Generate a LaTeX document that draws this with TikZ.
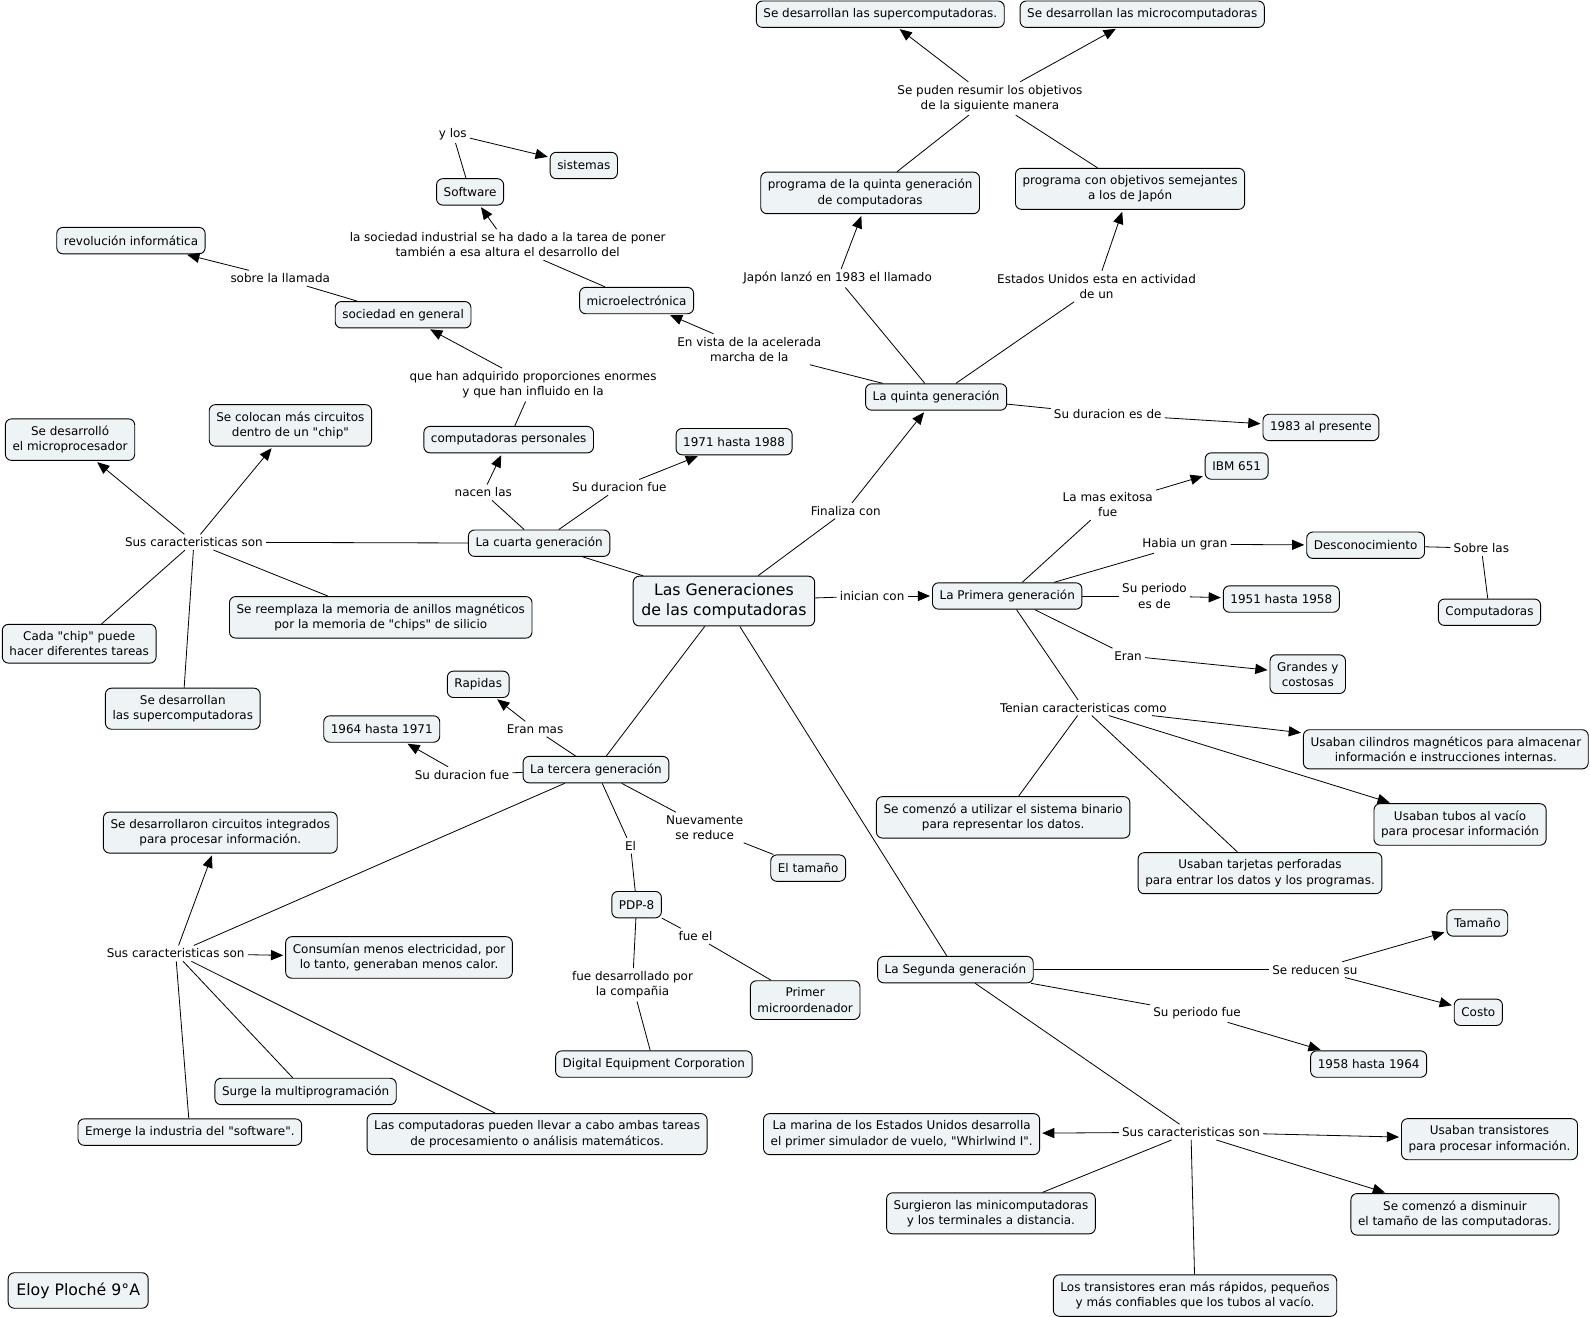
\documentclass[tikz,border=0pt]{standalone}
\usepackage{fontspec}
\setmainfont{DejaVu Sans}[Ligatures=TeXOff]
\usetikzlibrary{arrows.meta}
\definecolor{cfill}{HTML}{EEF3F5}
\tikzset{
  concept/.style={draw=black, line width=0.9pt, fill=cfill, rounded corners=6pt,
    inner xsep=7pt, inner ysep=7pt, minimum height=26pt, align=center,
    font=\fontsize{11.8}{15}\selectfont},
  bigconcept/.style={concept, inner xsep=8pt, minimum height=35pt, font=\fontsize{15.5}{20}\selectfont},
  link/.style={inner sep=3pt, align=center, font=\fontsize{11.8}{15}\selectfont},
  conn/.style={line width=0.8pt, draw=black},
  arr/.style={conn, -{Triangle[length=12pt,width=10pt]}, shorten >=2pt},
}
\begin{document}
\begin{tikzpicture}[x=1pt,y=-1pt]
\useasboundingbox[fill=white] (0,0) rectangle (1566,1297);

% ---------- concepts ----------
\node[bigconcept] (main) at (713,592) {Las Generaciones\\de las computadoras};
\node[concept] (sup) at (867,14) {Se desarrollan las supercomputadoras.};
\node[concept] (micro) at (1125,14) {Se desarrollan las microcomputadoras};
\node[concept] (prog5) at (857,190) {programa de la quinta generación\\de computadoras};
\node[concept] (progUS) at (1113,186) {programa con objetivos semejantes\\a los de Japón};
\node[concept] (sistemas) at (575,163) {sistemas};
\node[concept] (software) at (463,189) {Software};
\node[concept] (revol) at (129,237) {revolución informática};
\node[concept] (socgen) at (397,310) {sociedad en general};
\node[concept] (microelec) at (627,296) {microelectrónica};
\node[concept] (quinta) at (922,391) {La quinta generación};
\node[concept] (y1983) at (1301,421) {1983 al presente};
\node[concept] (compers) at (501,433) {computadoras personales};
\node[concept] (y1971) at (723,435) {1971 hasta 1988};
\node[concept] (microproc) at (69,433) {Se desarrolló\\el microprocesador};
\node[concept] (circuitos) at (286,419) {Se colocan más circuitos\\dentro de un "chip"};
\node[concept] (cuarta) at (531,535) {La cuarta generación};
\node[concept] (reemplaza) at (375,608) {Se reemplaza la memoria de anillos magnéticos\\por la memoria de "chips" de silicio};
\node[concept] (cadachip) at (78,634) {Cada "chip" puede\\hacer diferentes tareas};
\node[concept] (supercomp4) at (180,698) {Se desarrollan\\las supercomputadoras};
\node[concept] (ibm) at (1218,459) {IBM 651};
\node[concept] (descon) at (1345,537) {Desconocimiento};
\node[concept] (computadoras) at (1467,603) {Computadoras};
\node[concept] (primera) at (992,587) {La Primera generación};
\node[concept] (y1951) at (1262,590) {1951 hasta 1958};
\node[concept] (grandes) at (1288,664) {Grandes y\\costosas};
\node[concept] (cilindros) at (1424,738) {Usaban cilindros magnéticos para almacenar\\información e instrucciones internas.};
\node[concept] (tubos) at (1438,812) {Usaban tubos al vacío\\para procesar información};
\node[concept] (binario) at (988,805) {Se comenzó a utilizar el sistema binario\\para representar los datos.};
\node[concept] (tarjetas) at (1241,860) {Usaban tarjetas perforadas\\para entrar los datos y los programas.};
\node[concept] (rapidas) at (471,674) {Rapidas};
\node[concept] (y1964) at (376,718) {1964 hasta 1971};
\node[concept] (tercera) at (587,758) {La tercera generación};
\node[concept] (tamano3) at (796,855) {El tamaño};
\node[concept] (integrados) at (217,820) {Se desarrollaron circuitos integrados\\para procesar información.};
\node[concept] (pdp8) at (627,891) {PDP-8};
\node[concept] (consumian) at (393,943) {Consumían menos electricidad, por\\lo tanto, generaban menos calor.};
\node[concept] (primer) at (793,985) {Primer\\microordenador};
\node[concept] (dec) at (644,1048) {Digital Equipment Corporation};
\node[concept] (multiprog) at (301,1075) {Surge la multiprogramación};
\node[concept] (software3) at (187,1115) {Emerge la industria del "software".};
\node[concept] (ambas) at (529,1117) {Las computadoras pueden llevar a cabo ambas tareas\\de procesamiento o análisis matemáticos.};
\node[concept] (segunda) at (941,955) {La Segunda generación};
\node[concept] (tamano2) at (1455,909) {Tamaño};
\node[concept] (costo) at (1456,997) {Costo};
\node[concept] (y1958) at (1348,1048) {1958 hasta 1964};
\node[concept] (marina) at (888,1117) {La marina de los Estados Unidos desarrolla\\el primer simulador de vuelo, "Whirlwind I".};
\node[concept] (transist) at (1467,1122) {Usaban transistores\\para procesar información.};
\node[concept] (minicomp) at (976,1195) {Surgieron las minicomputadoras\\y los terminales a distancia.};
\node[concept] (disminuir) at (1433,1196) {Se comenzó a disminuir\\el tamaño de las computadoras.};
\node[concept] (transrap) at (1177,1276) {Los transistores eran más rápidos, pequeños\\y más confiables que los tubos al vacío.};
\node[bigconcept] (eloy) at (77,1271) {Eloy Ploché 9°A};

% ---------- linking phrases ----------
\node[link] (L1) at (975,97) {Se puden resumir los objetivos\\de la siguiente manera};
\node[link] (L2) at (446,132) {y los};
\node[link] (L3) at (500,241) {la sociedad industrial se ha dado a la tarea de poner\\también a esa altura el desarrollo del};
\node[link] (L4) at (276,274) {sobre la llamada};
\node[link] (L5) at (825,274) {Japón lanzó en 1983 el llamado};
\node[link] (L6) at (1080,282) {Estados Unidos esta en actividad\\de un};
\node[link] (L7) at (738,344) {En vista de la acelerada\\marcha de la};
\node[link] (L8) at (525,379) {que han adquirido proporciones enormes\\y que han influido en la};
\node[link] (L9) at (1091,408) {Su duracion es de};
\node[link] (L10) at (476,485) {nacen las};
\node[link] (L11) at (610,480) {Su duracion fue};
\node[link] (L12) at (833,503) {Finaliza con};
\node[link] (L13) at (191,534) {Sus caracteristicas son};
\node[link] (L14) at (1091,497) {La mas exitosa\\fue};
\node[link] (L15) at (1167,536) {Habia un gran};
\node[link] (L16) at (1459,540) {Sobre las};
\node[link] (L17) at (859,587) {inician con};
\node[link] (L18) at (1137,587) {Su periodo\\es de};
\node[link] (L19) at (1111,646) {Eran};
\node[link] (L20) at (1067,697) {Tenian caracteristicas como};
\node[link] (L21) at (527,718) {Eran mas};
\node[link] (L22) at (455,763) {Su duracion fue};
\node[link] (L23) at (694,815) {Nuevamente\\se reduce};
\node[link] (L24) at (621,833) {El};
\node[link] (L25) at (685,922) {fue el};
\node[link] (L26) at (623,970) {fue desarrollado por\\la compañia};
\node[link] (L27) at (173,939) {Sus caracteristicas son};
\node[link] (L28) at (1295,955) {Se reducen su};
\node[link] (L29) at (1179,998) {Su periodo fue};
\node[link] (L30) at (1173,1115) {Sus caracteristicas son};

% ---------- connectors ----------
% main
\draw[conn] (main) -- (L17); \draw[arr] (L17) -- (primera);
\draw[conn] (main) -- (L12); \draw[arr] (L12) -- (quinta);
\draw[conn] (main) -- (cuarta);
\draw[conn] (main) -- (tercera);
\draw[conn] (main) -- (segunda);
% quinta
\draw[conn] (quinta) -- (L7); \draw[arr] (L7) -- (microelec);
\draw[conn] (quinta) -- (L5); \draw[arr] (L5) -- (prog5);
\draw[conn] (quinta) -- (L6); \draw[arr] (L6) -- (progUS);
\draw[conn] (quinta) -- (L9); \draw[arr] (L9) -- (y1983);
\draw[conn] (prog5) -- (L1); \draw[conn] (progUS) -- (L1);
\draw[arr] (L1) -- (sup); \draw[arr] (L1) -- (micro);
\draw[conn] (microelec) -- (L3); \draw[arr] (L3) -- (software);
\draw[conn] (software) -- (L2); \draw[arr] (L2) -- (sistemas);
\draw[conn] (socgen) -- (L4); \draw[arr] (L4) -- (revol);
\draw[conn] (compers) -- (L8); \draw[arr] (L8) -- (socgen);
% cuarta
\draw[conn] (cuarta) -- (L10); \draw[arr] (L10) -- (compers);
\draw[conn] (cuarta) -- (L11); \draw[arr] (L11) -- (y1971);
\draw[conn] (cuarta) -- (L13);
\draw[arr] (L13) -- (microproc);
\draw[arr] (L13) -- (circuitos);
\draw[conn] (L13) -- (cadachip);
\draw[conn] (L13) -- (supercomp4);
\draw[conn] (L13) -- (reemplaza);
% primera
\draw[conn] (primera) -- (L14); \draw[arr] (L14) -- (ibm);
\draw[conn] (primera) -- (L15); \draw[arr] (L15) -- (descon);
\draw[conn] (descon) -- (L16); \draw[conn] (L16) -- (computadoras);
\draw[conn] (primera) -- (L18); \draw[arr] (L18) -- (y1951);
\draw[conn] (primera) -- (L19); \draw[arr] (L19) -- (grandes);
\draw[conn] (primera) -- (L20);
\draw[arr] (L20) -- (cilindros);
\draw[arr] (L20) -- (tubos);
\draw[conn] (L20) -- (binario);
\draw[conn] (L20) -- (tarjetas);
% tercera
\draw[conn] (tercera) -- (L21); \draw[arr] (L21) -- (rapidas);
\draw[conn] (tercera) -- (L22); \draw[arr] (L22) -- (y1964);
\draw[conn] (tercera) -- (L23); \draw[conn] (L23) -- (tamano3);
\draw[conn] (tercera) -- (L24); \draw[conn] (L24) -- (pdp8);
\draw[conn] (pdp8) -- (L25); \draw[conn] (L25) -- (primer);
\draw[conn] (pdp8) -- (L26); \draw[conn] (L26) -- (dec);
\draw[conn] (tercera) -- (L27);
\draw[arr] (L27) -- (integrados);
\draw[arr] (L27) -- (consumian);
\draw[conn] (L27) -- (multiprog);
\draw[conn] (L27) -- (software3);
\draw[conn] (L27) -- (ambas);
% segunda
\draw[conn] (segunda) -- (L28); \draw[arr] (L28) -- (tamano2); \draw[arr] (L28) -- (costo);
\draw[conn] (segunda) -- (L29); \draw[arr] (L29) -- (y1958);
\draw[conn] (segunda) -- (L30);
\draw[arr] (L30) -- (marina);
\draw[arr] (L30) -- (transist);
\draw[arr] (L30) -- (disminuir);
\draw[conn] (L30) -- (minicomp);
\draw[conn] (L30) -- (transrap);
\end{tikzpicture}
\end{document}
